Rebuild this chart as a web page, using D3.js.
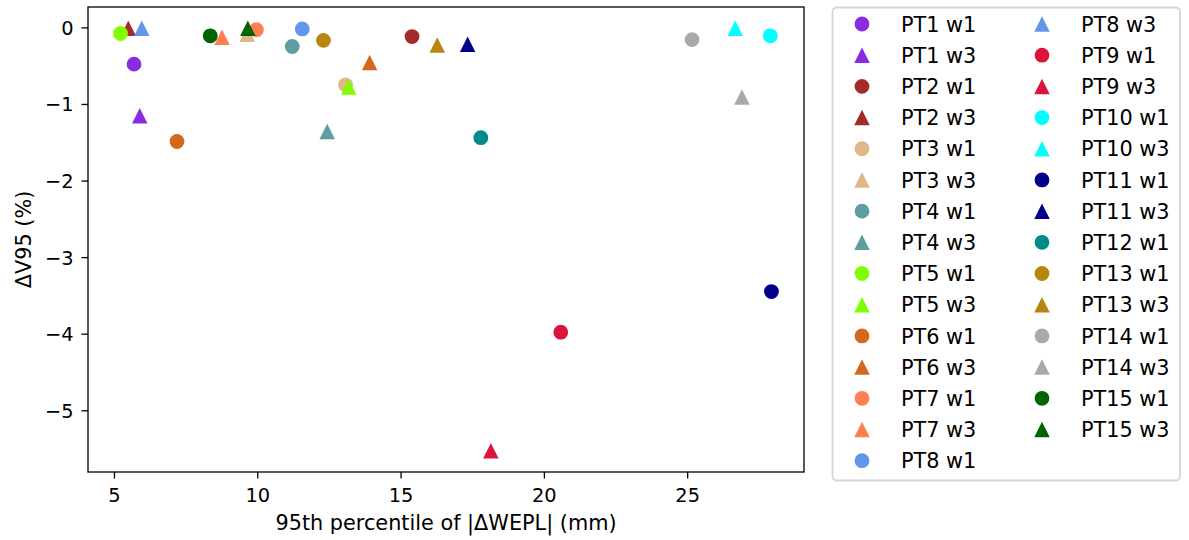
<!DOCTYPE html>
<html>
<head>
<meta charset="utf-8">
<script src="https://cdn.jsdelivr.net/npm/d3@7"></script>
<style>
  body { margin: 0; background: #fff; }
  text { font-family: "DejaVu Sans", sans-serif; fill: #000; }
</style>
</head>
<body>
<script>
// patients and their colours (matplotlib named colours, in order)
var patients = ["PT1","PT2","PT3","PT4","PT5","PT6","PT7","PT8","PT9","PT10","PT11","PT12","PT13","PT14","PT15"];
var colors = ["blueviolet","brown","burlywood","cadetblue","chartreuse","chocolate","coral","cornflowerblue","crimson","cyan","darkblue","darkcyan","darkgoldenrod","darkgray","darkgreen"];

// week 1 : 95th percentile |dWEPL| (mm) and dV95 (%)
var w1X = [5.70, 15.40, 13.08, 11.22, 5.23, 7.20, 9.97, 11.57, 20.59, 27.90, 27.94, 17.80, 12.31, 25.17, 8.36];
var w1Y = [-0.48, -0.12, -0.75, -0.25, -0.08, -1.49, -0.03, -0.02, -3.98, -0.11, -3.45, -1.44, -0.17, -0.16, -0.11];
// week 3 (PT12 has no week 3)
var w3X = [5.90, 5.50, 9.65, 12.44, 13.19, 13.92, 8.77, 5.97, 18.15, 26.68, 17.34, null, 16.28, 26.91, 9.67];
var w3Y = [-1.155, -0.01, -0.09, -1.36, -0.78, -0.46, -0.13, -0.01, -5.53, -0.01, -0.22, null, -0.23, -0.91, -0.01];

var xTicks = [5, 10, 15, 20, 25];
var yTicks = [0, -1, -2, -3, -4, -5];

// build the list of series in plotting order
var series = [];
patients.forEach(function(p, i){
  series.push({label: p + " w1", x: w1X[i], y: w1Y[i], color: colors[i], shape: "circle"});
  if (w3X[i] != null) series.push({label: p + " w3", x: w3X[i], y: w3Y[i], color: colors[i], shape: "triangle"});
});

var W = 1189, H = 540;
var pLeft = 88, pRight = 804, pTop = 7, pBottom = 472;

var svg = d3.select("body").append("svg").attr("width", W).attr("height", H);

// matplotlib style 5% margins
var xExt = d3.extent(series, function(d){ return d.x; });
var yExt = d3.extent(series, function(d){ return d.y; });
var xPad = (xExt[1] - xExt[0]) * 0.05, yPad = (yExt[1] - yExt[0]) * 0.05;

var x = d3.scaleLinear().domain([xExt[0] - xPad, xExt[1] + xPad]).range([pLeft, pRight]);
var y = d3.scaleLinear().domain([yExt[0] - yPad, yExt[1] + yPad]).range([pBottom, pTop]);

var fmt = d3.format("d");

// axes
var xAxis = svg.append("g").attr("transform", "translate(0," + pBottom + ")")
  .call(d3.axisBottom(x).tickValues(xTicks).tickFormat(fmt).tickSize(6.5).tickPadding(5));
var yAxis = svg.append("g").attr("transform", "translate(" + pLeft + ",0)")
  .call(d3.axisLeft(y).tickValues(yTicks).tickFormat(fmt).tickSize(6.5).tickPadding(8));
[xAxis, yAxis].forEach(function(g){
  g.attr("font-size", null).attr("font-family", null);
  g.select(".domain").remove();
  g.selectAll(".tick line").attr("stroke", "#000").attr("stroke-width", 1.3);
  g.selectAll(".tick text").style("font-size", "19.4px").attr("fill", "#000");
});
xAxis.selectAll(".tick text").attr("dy", "0.71em").attr("y", 16);
yAxis.selectAll(".tick text").attr("dy", "0.36em");

// frame
svg.append("rect").attr("x", pLeft).attr("y", pTop).attr("width", pRight - pLeft).attr("height", pBottom - pTop)
  .attr("fill", "none").attr("stroke", "#000").attr("stroke-width", 1.3);

// axis labels
svg.append("text").attr("x", (pLeft + pRight) / 2).attr("y", 530).attr("text-anchor", "middle")
  .style("font-size", "20.8px").text("95th percentile of |ΔWEPL| (mm)");
svg.append("text").attr("transform", "translate(31," + ((pTop + pBottom) / 2) + ") rotate(-90)")
  .attr("text-anchor", "middle").style("font-size", "20.8px").text("ΔV95 (%)");

// marker generators
var circleSym = d3.symbol().type(d3.symbolCircle).size(Math.PI * 7.4 * 7.4);
function triPath(s){
  var h = s / 2;
  return "M0," + (-h) + "L" + h + "," + h + "L" + (-h) + "," + h + "Z";
}
function marker(g, d){
  if (d.shape === "circle") g.append("path").attr("d", circleSym()).attr("fill", d.color);
  else g.append("path").attr("d", triPath(15.5)).attr("fill", d.color);
}

// points
var pts = svg.append("g");
series.forEach(function(d){
  var g = pts.append("g").attr("transform", "translate(" + x(d.x) + "," + y(d.y) + ")");
  marker(g, d);
});

// legend
var legend = svg.append("g");
legend.append("rect").attr("x", 832.5).attr("y", 7.5).attr("width", 347.5).attr("height", 473)
  .attr("rx", 4).attr("fill", "#fff").attr("stroke", "#d6d6d6").attr("stroke-width", 1.8);
var perCol = Math.ceil(series.length / 2);
series.forEach(function(d, i){
  var col = Math.floor(i / perCol), row = i % perCol;
  var mx = 862 + col * 180, my = 24 + row * 31.19;
  var g = legend.append("g").attr("transform", "translate(" + mx + "," + my + ")");
  marker(g, d);
  legend.append("text").attr("x", mx + 39).attr("y", my + 7.6)
    .style("font-size", "20.8px").text(d.label);
});
</script>
</body>
</html>
